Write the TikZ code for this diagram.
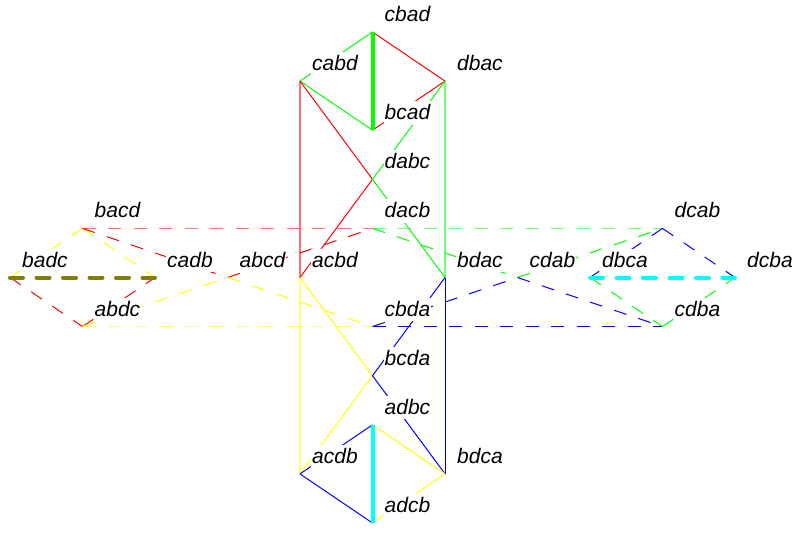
\documentclass[tikz,border=0pt]{standalone}
\usepackage{fontspec}
\setmainfont{Liberation Sans}
\definecolor{olv}{RGB}{128,128,0}
\definecolor{cyn}{RGB}{0,255,255}
\definecolor{rd}{RGB}{255,0,0}
\definecolor{gn}{RGB}{0,255,0}
\definecolor{bl}{RGB}{0,0,255}
\definecolor{yl}{RGB}{255,255,0}
\begin{document}
\begin{tikzpicture}[x=72.5bp,y=-49.1bp,
  e/.style={line width=1bp},
  dsh/.style={line width=1bp, dash pattern=on 13bp off 12.5bp},
  thk/.style={line width=4bp},
  thkd/.style={line width=4bp, line cap=round, dash pattern=on 13bp off 13.5bp},
  back/.style={opacity=0.55, line width=1.3bp},
  lab/.style={anchor=base west, fill=white, inner xsep=1bp, inner ysep=0pt,
    text height=18.5bp, text depth=5bp,
    font=\fontsize{21bp}{25bp}\selectfont\itshape, xshift=11bp, yshift=10.5bp}]
\useasboundingbox (-10bp,32bp) rectangle (784bp,-501bp);
% vertices
\coordinate (cbad) at (5,0);
\coordinate (cabd) at (4,1);
\coordinate (dbac) at (6,1);
\coordinate (bcad) at (5,2);
\coordinate (dabc) at (5,3);
\coordinate (dacb) at (5,4);
\coordinate (bacd) at (1,4);
\coordinate (dcab) at (9,4);
\coordinate (badc) at (0,5);
\coordinate (cadb) at (2,5);
\coordinate (abcd) at (3,5);
\coordinate (acbd) at (4,5);
\coordinate (bdac) at (6,5);
\coordinate (cdab) at (7,5);
\coordinate (dbca) at (8,5);
\coordinate (dcba) at (10,5);
\coordinate (abdc) at (1,6);
\coordinate (cbda) at (5,6);
\coordinate (cdba) at (9,6);
\coordinate (bcda) at (5,7);
\coordinate (adbc) at (5,8);
\coordinate (acdb) at (4,9);
\coordinate (bdca) at (6,9);
\coordinate (adcb) at (5,10);
% back edges
\draw[back,rd] (cabd)--(acbd);
\draw[back,gn] (dbac)--(bdac);
\draw[back,yl] (acbd)--(acdb);
\draw[e,bl] (bdac)--(bdca);
\draw[dsh,back,rd] (bacd)--(dacb);
\draw[dsh,back,gn] (dacb)--(dcab);
\draw[dsh,back,yl] (abdc)--(cbda);
\draw[dsh,bl] (cbda)--(cdba);
% solid edges
\draw[e,gn] (cbad)--(cabd) (cabd)--(bcad);
\draw[e,rd] (cbad)--(dbac) (dbac)--(bcad);
\draw[e,rd] (cabd)--(dabc) (dabc)--(acbd);
\draw[e,gn] (dbac)--(dabc) (dabc)--(bdac);
\draw[e,yl] (acbd)--(bcda) (bcda)--(acdb);
\draw[e,bl] (bdac)--(bcda) (bcda)--(bdca);
\draw[e,bl] (adbc)--(acdb) (acdb)--(adcb);
\draw[e,yl] (adbc)--(bdca) (bdca)--(adcb);
% dashed edges
\draw[dsh,yl] (bacd)--(badc) (bacd)--(cadb);
\draw[dsh,rd] (badc)--(abdc) (abdc)--(cadb);
\draw[dsh,rd] (bacd)--(abcd) (abcd)--(dacb);
\draw[dsh,yl] (abdc)--(abcd) (abcd)--(cbda);
\draw[dsh,gn] (dacb)--(cdab) (cdab)--(dcab);
\draw[dsh,bl] (cbda)--(cdab) (cdab)--(cdba);
\draw[dsh,bl] (dcab)--(dbca) (dcab)--(dcba);
\draw[dsh,gn] (dbca)--(cdba) (cdba)--(dcba);
% thick edges
\draw[thk,gn] (cbad)--(bcad);
\draw[thk,cyn] (adbc)--(adcb);
\draw[thkd,olv] (badc)--(cadb);
\draw[thkd,cyn] (dbca)--(dcba);
% labels
\node[lab] (Lcbad) at (cbad) {cbad};
\node[lab] (Lcabd) at (cabd) {cabd};
\node[lab] (Ldbac) at (dbac) {dbac};
\node[lab] (Lbcad) at (bcad) {bcad};
\node[lab] (Ldabc) at (dabc) {dabc};
\node[lab] (Ldacb) at (dacb) {dacb};
\node[lab] (Lbacd) at (bacd) {bacd};
\node[lab] (Ldcab) at (dcab) {dcab};
\node[lab] (Lbadc) at (badc) {badc};
\node[lab] (Lcadb) at (cadb) {cadb};
\node[lab] (Labcd) at (abcd) {abcd};
\node[lab] (Lacbd) at (acbd) {acbd};
\node[lab] (Lbdac) at (bdac) {bdac};
\node[lab] (Lcdab) at (cdab) {cdab};
\node[lab] (Ldbca) at (dbca) {dbca};
\node[lab] (Ldcba) at (dcba) {dcba};
\node[lab] (Labdc) at (abdc) {abdc};
\node[lab] (Lcbda) at (cbda) {cbda};
\node[lab] (Lcdba) at (cdba) {cdba};
\node[lab] (Lbcda) at (bcda) {bcda};
\node[lab] (Ladbc) at (adbc) {adbc};
\node[lab] (Lacdb) at (acdb) {acdb};
\node[lab] (Lbdca) at (bdca) {bdca};
\node[lab] (Ladcb) at (adcb) {adcb};
\end{tikzpicture}
\end{document}
